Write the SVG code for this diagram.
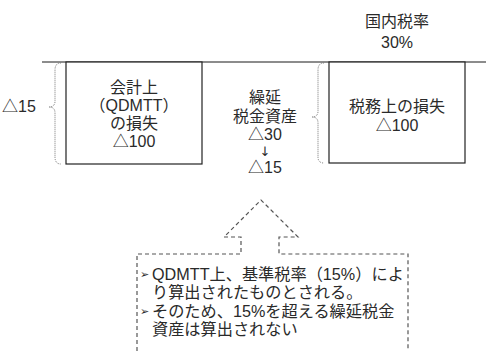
<svg xmlns="http://www.w3.org/2000/svg" width="486" height="351" viewBox="0 0 486 351">
<style>
text{font-family:"Liberation Sans","Noto Sans CJK JP",sans-serif;font-size:16px;fill:#2a2a2a}
.c{text-anchor:middle}
.box{fill:#fff;stroke:#222;stroke-width:1.2}
.brace{fill:none;stroke:#777;stroke-width:1;stroke-dasharray:1 1}
.dash{fill:none;stroke:#555;stroke-width:1.2;stroke-dasharray:4 3}
.bul{font-family:"DejaVu Sans",sans-serif;font-size:11px}
.note{font-size:16.2px}
.arr{font-family:"DejaVu Sans",sans-serif;font-size:13px}
</style>
<rect width="486" height="351" fill="#fff"/>
<g id="rate">
<text class="c" x="397" y="27">国内税率</text>
<text class="c" x="397" y="48">30%</text>
</g>
<g id="connectors">
<line x1="42" y1="62" x2="486" y2="62" stroke="#666" stroke-width="1.5"/>
<path class="brace" d="M61,63 Q55,63 55,70 L55,101 Q55,107 49,107 Q55,107 55,113 L55,157 Q55,164 61,164"/>
<path class="brace" d="M324,63 Q318,63 318,70 L318,111 Q318,117 312,117 Q318,117 318,123 L318,157 Q318,163 324,163"/>
<path class="dash" d="M137,351 L137,254 L241,254 L241,237 L224,237 L261,200 L298,237 L279,237 L279,254 L408,254 L408,351"/>
</g>
<g id="left-label">
<text x="2" y="112">△15</text>
</g>
<g id="accounting-loss">
<rect class="box" x="66" y="62" width="136" height="102"/>
<text class="c" x="134" y="93">会計上</text>
<text class="c" x="134" y="111">（QDMTT）</text>
<text class="c" x="134" y="129">の損失</text>
<text class="c" x="134" y="147">△100</text>
</g>
<g id="dta">
<text class="c" x="265" y="103">繰延</text>
<text class="c" x="265" y="122">税金資産</text>
<text class="c" x="265" y="140">△30</text>
<text class="c arr" x="265" y="156">↓</text>
<text class="c" x="265" y="173">△15</text>
</g>
<g id="tax-loss">
<rect class="box" x="329" y="62" width="136" height="101"/>
<text class="c" x="397" y="112">税務上の損失</text>
<text class="c" x="397" y="131">△100</text>
</g>
<g id="note">
<text class="bul" x="140" y="278">➢</text>
<text class="note" x="152" y="280">QDMTT上、基準税率（15%）によ</text>
<text class="note" x="152" y="298">り算出されたものとされる。</text>
<text class="bul" x="140" y="315">➢</text>
<text class="note" x="152" y="317">そのため、15%を超える繰延税金</text>
<text class="note" x="152" y="335">資産は算出されない</text>
</g>
</svg>
